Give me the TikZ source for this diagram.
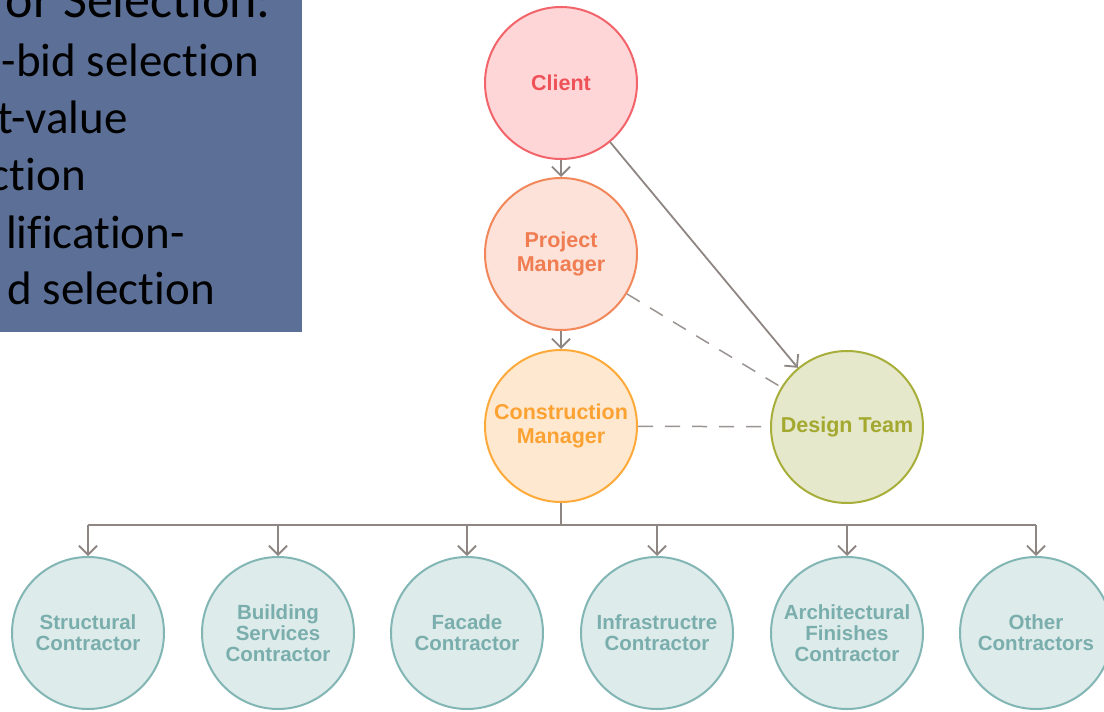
\documentclass[tikz,border=0pt]{standalone}
\usepackage{fontspec}
\setmainfont{Liberation Sans}
\newfontfamily\slidefont[Ligatures={NoCommon}]{Carlito}
\usetikzlibrary{arrows.meta}
\definecolor{slideblue}{HTML}{5C7097}
\definecolor{lineg}{HTML}{8E8683}
\definecolor{dashg}{HTML}{9A9592}
\definecolor{clientfill}{HTML}{FFD6D8}
\definecolor{clientdraw}{HTML}{F2646A}
\definecolor{clienttext}{HTML}{EE5258}
\definecolor{pmfill}{HTML}{FCE2D8}
\definecolor{pmdraw}{HTML}{F2875A}
\definecolor{pmtext}{HTML}{F07C52}
\definecolor{cmfill}{HTML}{FFE8D0}
\definecolor{cmdraw}{HTML}{FDAA3A}
\definecolor{cmtext}{HTML}{FBA233}
\definecolor{dtfill}{HTML}{E6E8CB}
\definecolor{dtdraw}{HTML}{A7AE3A}
\definecolor{dttext}{HTML}{A3A82E}
\definecolor{cofill}{HTML}{DDEBEA}
\definecolor{codraw}{HTML}{82B6B4}
\definecolor{cotext}{HTML}{7AAEAD}
\tikzset{
  role/.style={circle, minimum size=152pt, inner sep=0pt, line width=2pt, align=center,
    font=\bfseries\fontsize{21.5}{24}\selectfont},
  clientnode/.style={role, draw=clientdraw, fill=clientfill, text=clienttext},
  pmnode/.style={role, draw=pmdraw, fill=pmfill, text=pmtext},
  cmnode/.style={role, draw=cmdraw, fill=cmfill, text=cmtext},
  dtnode/.style={role, draw=dtdraw, fill=dtfill, text=dttext},
  contractor/.style={role, draw=codraw, fill=cofill, text=cotext,
    font=\bfseries\fontsize{20.5}{21}\selectfont},
  conn/.style={draw=lineg, line width=1.8pt, -{Straight Barb[length=9pt,width=18pt,line width=1.8pt]}},
  plainconn/.style={draw=lineg, line width=1.8pt},
  dashconn/.style={draw=dashg, line width=1.5pt, dash pattern=on 15pt off 12pt},
  slidetext/.style={anchor=base east, inner sep=0pt, font=\slidefont\fontsize{47}{56}\selectfont, text=black}
}
\begin{document}
\begin{tikzpicture}[x=1pt,y=-1pt]
\useasboundingbox (0,0) rectangle (1104,712);
\fill[white] (0,0) rectangle (1104,712);
% slide text box
\fill[slideblue] (0,0) rectangle (302,332);
\begin{scope}
\clip (0,0) rectangle (302,332);
\node[slidetext, font=\slidefont\fontsize{52}{60}\selectfont] (t0) at (271,17) {or Selection:};
\node[slidetext] (t1) at (259,76) {-bid selection};
\node[slidetext] (t2) at (128,133) {t-value};
\node[slidetext] (t3) at (86,190) {ction};
\node[slidetext] (t4) at (185,248) {lification-};
\node[slidetext] (t5) at (215,304) {d selection};
\end{scope}
% main nodes
\node[clientnode] (client) at (561,83) {Client};
\node[pmnode] (pm) at (561,254) {Project\\Manager};
\node[cmnode] (cm) at (561,426) {Construction\\Manager};
\node[dtnode] (dt) at (847,427) {Design Team};
% contractors
\node[contractor] (c1) at (88,633) {Structural\\Contractor};
\node[contractor] (c2) at (278,633) {Building\\Services\\Contractor};
\node[contractor] (c3) at (467,633) {Facade\\Contractor};
\node[contractor] (c4) at (657,633) {Infrastructre\\Contractor};
\node[contractor] (c5) at (847,633) {Architectural\\Finishes\\Contractor};
\node[contractor] (c6) at (1036,633) {Other\\Contractors};
% connectors
\draw[conn] (client) -- (pm);
\draw[conn] (pm) -- (cm);
\draw[conn] (client) -- (dt);
\draw[dashconn] (pm) -- (dt);
\draw[dashconn] (cm) -- (dt);
\coordinate (bus) at (561,525);
\draw[plainconn] (cm.south) -- (bus);
\draw[plainconn] (c1 |- bus) -- (c6 |- bus);
\foreach \c in {c1,c2,c3,c4,c5,c6}{
  \draw[conn] (\c |- bus) -- (\c.north);
}
\end{tikzpicture}
\end{document}
